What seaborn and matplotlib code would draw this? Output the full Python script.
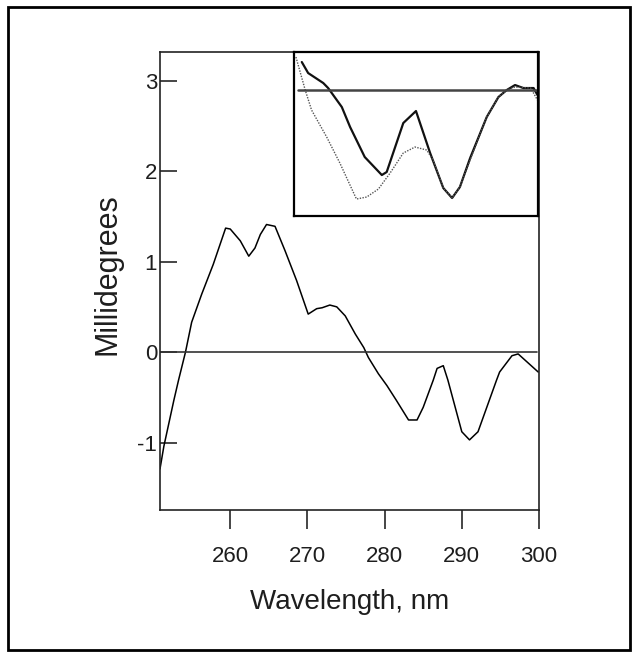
import numpy as np
import pandas as pd
import matplotlib
matplotlib.use("Agg")
import matplotlib.pyplot as plt
import seaborn as sns

# =========================
# DATA
# =========================
wavelength = [250.9, 251.4, 252.7, 253.3, 254.2, 255.0, 256.3, 257.8, 259.4, 260.0,
              261.3, 262.4, 263.2, 263.9, 264.7, 265.8, 267.1, 268.6, 270.1, 271.2,
              271.9, 272.9, 273.8, 274.9, 276.2, 277.3, 277.9, 279.2, 280.3, 281.5,
              283.1, 284.2, 285.0, 286.3, 286.8, 287.6, 288.2, 290.0, 291.0, 292.1,
              294.5, 294.9, 296.5, 297.3, 299.9]
millideg = [-1.29, -1.04, -0.53, -0.31, 0.0, 0.33, 0.64, 0.97, 1.37, 1.36,
            1.23, 1.06, 1.15, 1.30, 1.41, 1.39, 1.12, 0.79, 0.42, 0.48,
            0.49, 0.52, 0.50, 0.40, 0.20, 0.05, -0.06, -0.24, -0.37, -0.53,
            -0.75, -0.75, -0.61, -0.31, -0.18, -0.15, -0.31, -0.88, -0.97, -0.88,
            -0.31, -0.22, -0.04, -0.02, -0.22]

# inset: two traces, arbitrary units
inset_x_solid = [251.6, 252.9, 256.0, 257.0, 259.8, 261.5, 264.5, 268.0, 269.0, 272.4,
                 275.0, 277.9, 280.6, 282.4, 284.0, 286.1, 289.5, 291.9, 293.6, 295.3,
                 297.0, 299.1, 299.9]
inset_y_solid = [0.28, 0.17, 0.07, 0.02, -0.17, -0.37, -0.67, -0.85, -0.82, -0.33,
                 -0.21, -0.63, -0.98, -1.08, -0.97, -0.68, -0.27, -0.07, 0.0, 0.05,
                 0.02, 0.02, -0.05]
inset_x_dot = [250.4, 252.3, 253.6, 256.7, 259.4, 262.8, 264.9, 267.3, 269.7, 272.4,
               274.8, 277.2, 278.5, 280.6, 282.4, 284.0, 286.1, 289.5, 291.9, 293.6,
               295.3, 298.5, 299.9]
inset_y_dot = [0.33, 0.0, -0.20, -0.47, -0.73, -1.09, -1.07, -0.99, -0.83, -0.63,
               -0.57, -0.60, -0.70, -0.98, -1.08, -0.97, -0.70, -0.27, -0.07, 0.0,
               0.03, 0.02, -0.10]

x_ticks = [260, 270, 280, 290, 300]
y_ticks = [-1, 0, 1, 2, 3]

main_df = pd.DataFrame({"Wavelength": wavelength, "Millidegrees": millideg})
solid_df = pd.DataFrame({"x": inset_x_solid, "y": inset_y_solid})
dot_df = pd.DataFrame({"x": inset_x_dot, "y": inset_y_dot})

# =========================
# STYLE
# =========================
sns.set_theme(style="ticks")
plt.rcParams["font.family"] = ["Liberation Sans", "DejaVu Sans"]
text_col = "#1e1e1e"

fig = plt.figure(figsize=(6.38, 6.57), dpi=100)

# outer frame around the whole figure
fig.patches.append(plt.Rectangle((0.012, 0.011), 0.976, 0.978, transform=fig.transFigure,
                                 fill=False, edgecolor="black", linewidth=2.0))

# =========================
# MAIN PLOT
# =========================
ax = fig.add_axes([0.2508, 0.2237, 0.594, 0.697])
sns.lineplot(data=main_df, x="Wavelength", y="Millidegrees", ax=ax, color="black",
             linewidth=1.1, sort=False, estimator=None)
ax.axhline(0, xmin=0, xmax=0.995, color="#333333", linewidth=1.2)

ax.set_xlim(250.9, 300)
ax.set_ylim(-1.745, 3.315)
ax.set_xticks(x_ticks)
ax.set_yticks(y_ticks)
ax.set_yticklabels([str(v) for v in y_ticks])
ax.tick_params(axis="x", direction="out", length=14, width=1.2, pad=12, labelsize=16,
               labelcolor=text_col)
ax.tick_params(axis="y", direction="in", length=12, width=1.2, pad=2, labelsize=16,
               labelcolor=text_col)
ax.set_xlabel("Wavelength, nm", fontsize=20, labelpad=16, color=text_col)
ax.set_ylabel("Millidegrees", fontsize=22, color=text_col)
ax.yaxis.set_label_coords(-0.10, 0.515)
for s in ax.spines.values():
    s.set_linewidth(1.2)
    s.set_color("#222222")

# =========================
# INSET
# =========================
axin = fig.add_axes([0.4608, 0.6712, 0.3824, 0.2496])
sns.lineplot(data=solid_df, x="x", y="y", ax=axin, color="#111111", linewidth=1.6,
             sort=False, estimator=None)
sns.lineplot(data=dot_df, x="x", y="y", ax=axin, color="#555555", linewidth=1.0,
             linestyle=(0, (1, 1)), sort=False, estimator=None)
axin.axhline(0, xmin=0.015, xmax=1, color="#444444", linewidth=1.8)
axin.set_xlim(250, 300)
axin.set_ylim(-1.26, 0.38)
axin.set_xticks([])
axin.set_yticks([])
axin.set_xlabel("")
axin.set_ylabel("")
for s in axin.spines.values():
    s.set_linewidth(1.6)
    s.set_color("black")

plt.savefig("out.png", dpi=100)
plt.close()
